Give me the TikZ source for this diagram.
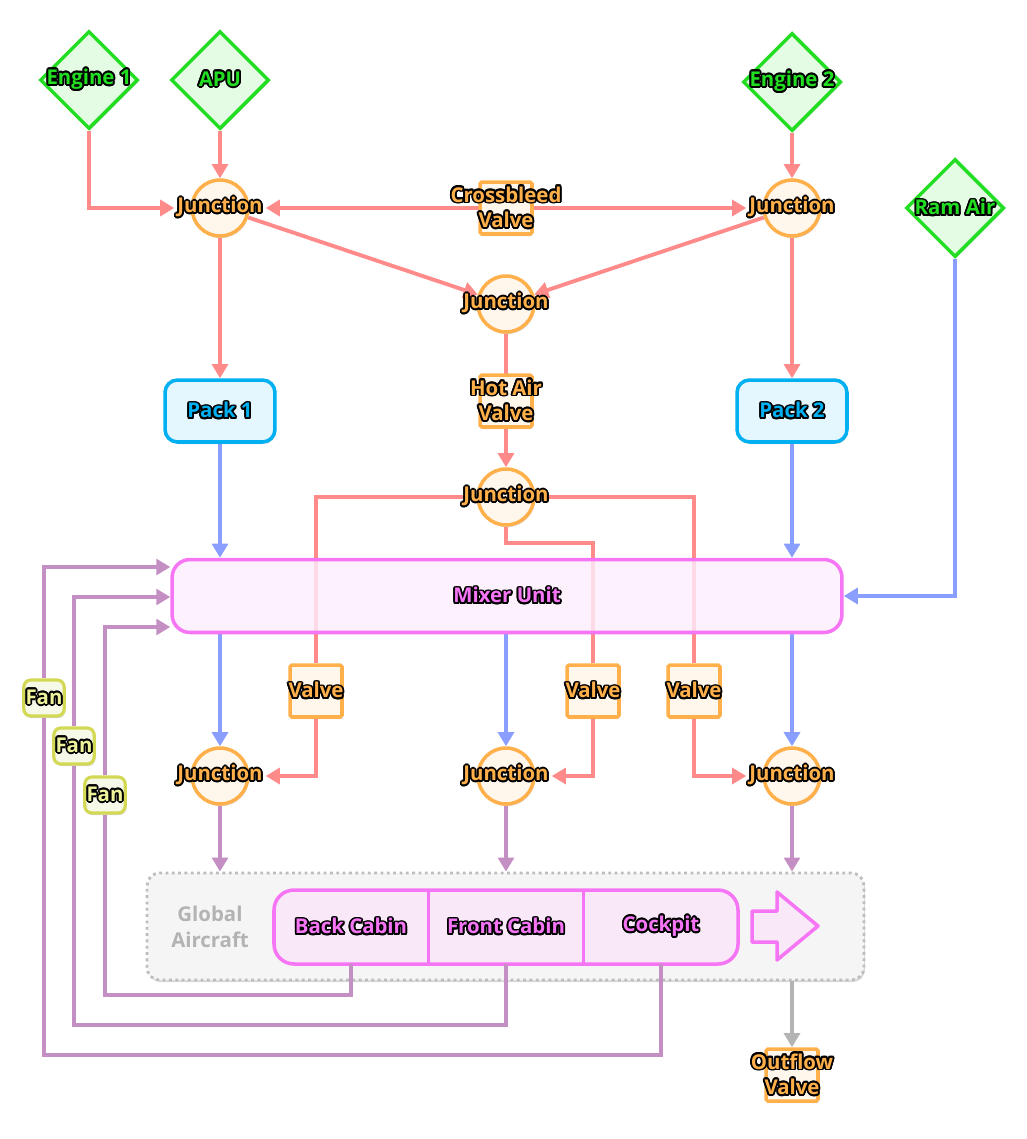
\documentclass[tikz,border=0pt]{standalone}
\usepackage{fontspec}
\setmainfont{Open Sans}
\usepackage{contour}
\contourlength{1pt}
\contournumber{16}
\usetikzlibrary{arrows.meta, shapes.geometric, shadows, calc}

\definecolor{hotair}{HTML}{FF8A8A}
\definecolor{coldair}{HTML}{8A9EFF}
\definecolor{recircair}{HTML}{C490C4}
\definecolor{exhaustair}{HTML}{B4B4B4}
\definecolor{srcgreen}{HTML}{22DD22}
\definecolor{srcfill}{HTML}{E4FBE4}
\definecolor{juncorange}{HTML}{FFB04A}
\definecolor{juncfill}{HTML}{FFF6EC}
\definecolor{packblue}{HTML}{00B0F0}
\definecolor{packfill}{HTML}{E4F6FE}
\definecolor{mixpink}{HTML}{F575F5}
\definecolor{mixfill}{HTML}{FDEEFD}
\definecolor{cabfill}{HTML}{F8E8F8}
\definecolor{fanolive}{HTML}{D3D955}
\definecolor{fantext}{HTML}{EEF29A}
\definecolor{fanfill}{HTML}{F7F9E8}
\definecolor{groupfill}{HTML}{F5F5F5}
\definecolor{groupline}{HTML}{BDBDBD}
\definecolor{grouptext}{HTML}{B3B3B3}

\newcommand{\outl}[1]{\contour{black}{#1}}

\pgfdeclarelayer{back}
\pgfdeclarelayer{ducts}
\pgfsetlayers{back,ducts,main}

\tikzset{
  every node/.style={font=\bfseries\fontsize{11.6}{14.5}\selectfont},
  softshadow/.style={drop shadow={opacity=0.3, shadow xshift=0.6pt, shadow yshift=-1.2pt}},
  source/.style={diamond, aspect=1, draw=srcgreen, fill=srcfill, line width=2pt,
    minimum size=1.96cm, inner sep=0pt, softshadow,
    label={[text=srcgreen]center:\outl{#1}}},
  junction/.style={circle, draw=juncorange, fill=juncfill, line width=2pt,
    minimum size=1.12cm, inner sep=0pt, softshadow,
    label={[text=juncorange]center:\outl{Junction}}},
  valvebox/.style={rectangle, rounded corners=1pt, draw=juncorange, fill=juncfill,
    line width=2pt, minimum size=1.04cm, inner sep=0pt, softshadow,
    label={[text=juncorange, align=center]center:#1}},
  pack/.style={rectangle, rounded corners=0.25cm, draw=packblue, fill=packfill,
    line width=2pt, minimum width=2.2cm, minimum height=1.24cm, text=packblue, softshadow},
  mixer/.style={rectangle, rounded corners=0.36cm, draw=mixpink, fill=mixfill,
    fill opacity=0.8, text opacity=1, line width=2pt, minimum width=13.4cm,
    minimum height=1.46cm, text=mixpink},
  fanbox/.style={rectangle, rounded corners=4pt, draw=fanolive, fill=fanfill,
    line width=1.8pt, minimum size=0.72cm, inner sep=1pt, text=fantext, softshadow},
  cabin/.style={rectangle, minimum width=3.1cm, minimum height=1.48cm, inner sep=0pt,
    text=mixpink},
  aircraft/.style={rectangle, rounded corners=0.25cm, draw=groupline, fill=groupfill,
    dotted, line width=1.6pt, minimum width=14.34cm, minimum height=2.14cm,
    softshadow},
  tip/.style={-{Triangle[length=8pt,width=9pt]}},
  hot/.style={draw=hotair, line width=2.2pt, tip},
  cold/.style={draw=coldair, line width=2.2pt, tip},
  recirc/.style={draw=recircair, line width=2.2pt, tip},
  exhaust/.style={draw=exhaustair, line width=2.2pt, tip},
}

\begin{document}
\begin{tikzpicture}[x=0.02cm, y=-0.02cm]
\useasboundingbox (0,0) rectangle (1027,1139);

% sources
\node[source={Engine 1}] (eng1) at (89,80) {};
\node[source={APU}] (apu) at (220,80) {};
\node[source={Engine 2}] (eng2) at (792,82) {};
\node[source={Ram Air}] (ramair) at (955,208) {};

% bleed junctions and valves
\node[junction] (j1) at (220,208) {};
\node[junction] (j2) at (792,208) {};
\node[junction] (j3) at (506,304) {};
\node[junction] (j4) at (506,497) {};
\node[valvebox={\outl{Crossbleed}\\\outl{Valve}}] (xbleed) at (506,208) {};
\node[valvebox={\outl{Hot Air}\\\outl{Valve}}] (hotvalve) at (506,401) {};

% packs and mixer
\node[pack] (pack1) at (220,411) {\outl{Pack 1}};
\node[pack] (pack2) at (792,411) {\outl{Pack 2}};
\node[mixer] (mixer) at (507,596) {\outl{Mixer Unit}};

% trim air
\node[valvebox={\outl{Valve}}] (trim1) at (316,691) {};
\node[valvebox={\outl{Valve}}] (trim2) at (593,691) {};
\node[valvebox={\outl{Valve}}] (trim3) at (694,691) {};
\node[junction] (j5) at (220,776) {};
\node[junction] (j6) at (506,776) {};
\node[junction] (j7) at (792,776) {};

% recirculation fans
\node[fanbox] (fan1) at (44,698) {\outl{Fan}};
\node[fanbox] (fan2) at (74,746) {\outl{Fan}};
\node[fanbox] (fan3) at (105,795) {\outl{Fan}};

% aircraft zones
\begin{pgfonlayer}{back}
\node[aircraft] (aircraft) at (505.5,926.5) {};
\draw[draw=mixpink, fill=cabfill, line width=2pt, rounded corners=0.4cm]
  (274,890) rectangle (738,964);
\end{pgfonlayer}
\node[text=grouptext, align=center] (grouplbl) at (210,927) {Global\\Aircraft};
\node[cabin] (back) at (351,927) {\outl{Back Cabin}};
\node[cabin] (front) at (506,927) {\outl{Front Cabin}};
\node[cabin] (cockpit) at (661,927) {\outl{Cockpit}};
\draw[mixpink, line width=1.6pt] (back.north east) -- (back.south east);
\draw[mixpink, line width=1.6pt] (front.north east) -- (front.south east);
\draw[draw=mixpink, fill=cabfill, line width=2pt, line join=round]
  (752,911) -- (777,911) -- (777,892) -- (818,926) -- (777,960) -- (777,942)
  -- (752,942) -- cycle;
\node[valvebox={\outl{Outflow}\\\outl{Valve}}] (outflow) at (792,1075) {};

\begin{pgfonlayer}{ducts}
% bleed air
\draw[hot] (eng1) |- ([xshift=-0.32cm]j1.west);
\draw[hot] (apu) -- (j1);
\draw[hot] (eng2) -- (j2);
\draw[hot, {Triangle[length=8pt,width=9pt]}-{Triangle[length=8pt,width=9pt]}]
  ([xshift=0.32cm]j1.east) -- ([xshift=-0.32cm]j2.west);
\draw[hot] (j1) -- (j3);
\draw[hot] (j2) -- (j3);
\draw[hot] (j1) -- (pack1);
\draw[hot] (j2) -- (pack2);
\draw[hot] (j3) -- (j4);

% trim air
\draw[hot, -] (j4.west) -| (trim1);
\draw[hot] (trim1) |- ([xshift=0.32cm]j5.east);
\draw[hot, -] (j4.south) -- ++(0,16) -| (trim2);
\draw[hot] (trim2) |- ([xshift=0.32cm]j6.east);
\draw[hot, -] (j4.east) -| (trim3);
\draw[hot] (trim3) |- ([xshift=-0.32cm]j7.west);

% conditioned air
\draw[cold] (pack1) -- (pack1 |- mixer.north);
\draw[cold] (pack2) -- (pack2 |- mixer.north);
\draw[cold] (ramair) |- (mixer.east);
\draw[cold] (j5 |- mixer.south) -- (j5);
\draw[cold] (j6 |- mixer.south) -- (j6);
\draw[cold] (j7 |- mixer.south) -- (j7);

% distribution
\draw[recirc] (j5) -- (j5 |- aircraft.north);
\draw[recirc] (j6) -- (j6 |- aircraft.north);
\draw[recirc] (j7) -- (j7 |- aircraft.north);
\draw[exhaust] (outflow |- aircraft.south) -- (outflow);

% recirculation
\draw[recirc, -] (back.south) -- ++(0,31) -| (fan3);
\draw[recirc] (fan3) |- ($(mixer.west)+(0,31)$);
\draw[recirc, -] (front.south) -- ++(0,61) -| (fan2);
\draw[recirc] (fan2) |- ($(mixer.west)+(0,1)$);
\draw[recirc, -] (cockpit.south) -- ++(0,91) -| (fan1);
\draw[recirc] (fan1) |- ($(mixer.west)+(0,-29)$);
\end{pgfonlayer}
\end{tikzpicture}
\end{document}
